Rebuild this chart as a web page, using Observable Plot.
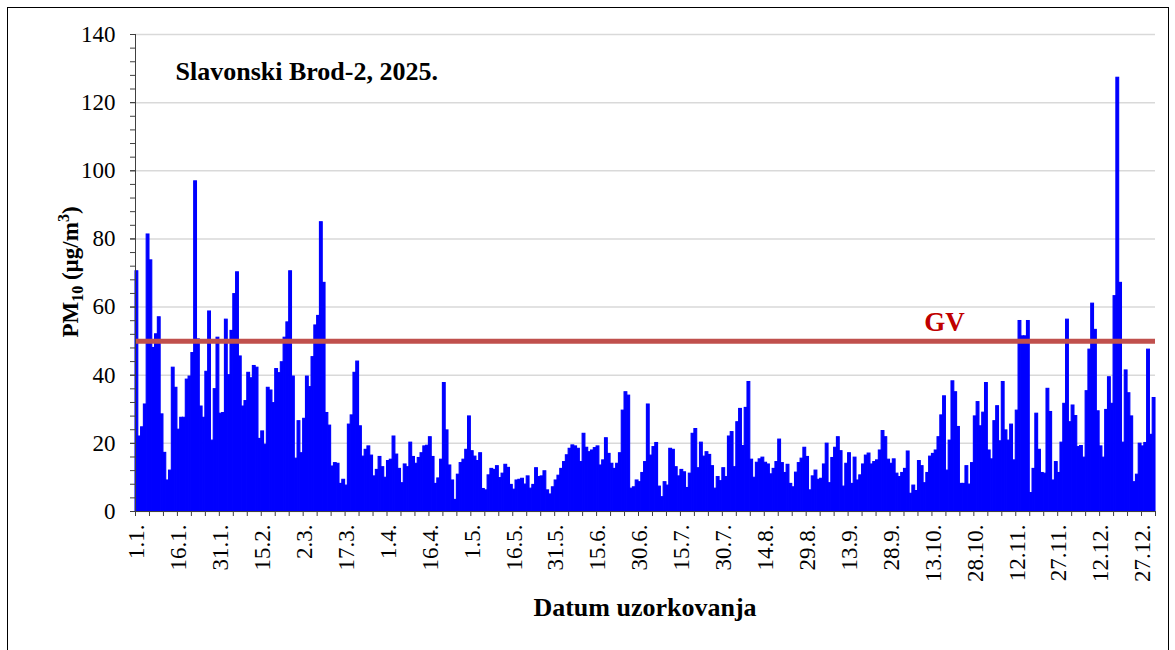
<!DOCTYPE html>
<html>
<head>
<meta charset="utf-8">
<script src="https://cdn.jsdelivr.net/npm/d3@7"></script>
<script src="https://cdn.jsdelivr.net/npm/@observablehq/plot@0.6"></script>
<style>
  body { margin: 0; background: #fff; }
  #frame { position: absolute; left: 7px; top: 7px; width: 1162px; height: 670px; border: 1px solid #000; box-sizing: border-box; }
  #chart { position: absolute; left: 0; top: 0; }
</style>
</head>
<body>
<div id="frame"></div>
<div id="chart"></div>
<script>
// Daily PM10 values (µg/m3), Slavonski Brod-2, 2025
const jan = [70.5,22,24.7,31.4,81.3,73.7,48,52,57,28.5,17.2,9.1,12,42.2,36.3,24,27.5,27.5,38.7,39.6,46.5,96.9,50.5,30.8,27.5,41,58.7,20.8,35.9,51,28.7];
const feb = [28.9,56.3,40,53,63.8,70.2,45.5,30.8,32.4,40.7,39.1,42.7,42.2,21.3,23.5,19.6,36.3,35.5,31.8,41.8,40.6,43.8,51,55.5,70.5,39.6,15.5,26.5];
const mar = [17.1,27.2,39.6,36.5,45.3,54.6,57.4,84.9,67.1,28.9,25.2,13.2,14.2,14,8.1,9.3,7.6,25.5,28.2,40.7,44,25,16.1,18.1,19.1,16.4,10.3,12.2,16,13,9.9];
const apr = [14.8,15.2,22,16.7,12.5,8.3,13.8,13,20.2,16,14,15.7,17.1,19.1,19.3,21.8,16,8.1,9.7,15.2,37.7,23.8,13.5,9.1,3.4,10.8,14.2,15.2,18.1,27.9];
const may = [17.7,16.1,14.8,17.1,6.6,6.2,10.6,12.5,12.2,13.3,9.8,11.1,13.7,12.8,7.8,6.4,9.1,9.3,9.6,7.9,10.3,6.7,7.8,12.7,10.1,10.3,11.8,6.2,5,7.1,9.1];
const jun = [10.5,12.5,14.5,16.5,18.4,19.4,19.1,18.4,14.5,22.8,18.7,17.4,17.9,18.6,19.1,13.5,15,21.5,16.9,14,12.5,14,17.1,29.6,35,34,6.7,7.1,9.1,8.6];
const jul = [11.3,14.5,31.4,16.4,18.9,20.1,7.3,4.2,8.6,7.6,18.4,18.1,13,10.3,12.2,11.5,6.9,11.1,22.8,24.2,12.7,20.2,16.1,17.4,16.6,13.3,6.7,10.1,8.9,12.7,10.1];
const aug = [22,23.3,13,26.2,30.1,19.2,30.4,38,15.2,9.9,14.3,15.3,15.8,14.3,13.8,10.9,12.5,14.5,21.1,14.2,11.3,13.7,8.1,7.1,11.4,14.2,15.5,18.7,16,6.2,10.3];
const sep = [12,9.3,9.6,13.8,19.9,8.3,15.7,18.7,21.8,17.7,7.3,14,17.1,8.1,15.8,9.1,10.6,13.8,16.4,17,13.8,14.5,15,17.9,23.6,21.8,15.2,14,15.3,11.1];
const oct = [10.1,11.3,12.5,17.6,5.2,7.6,6,14.8,13.3,8.3,11.3,16.1,16.9,17.9,21.8,28.2,33.8,12,20.8,38.2,35,24.8,8.1,8.1,13.3,7.9,14.2,27.9,32.1,25,29];
const nov = [37.7,17.9,15.3,26.5,30.9,20.6,38,23.8,20.8,25.5,15,29.6,55.9,51.4,51.4,55.9,5.4,12.5,28.7,18.1,11.3,11.1,36,29.2,9.1,14.5,11.3,20.2,31.6,56.3];
const dec = [26.2,31.1,28,18.9,19.2,15.8,35.3,47.5,61,53.3,29.4,19.1,15.8,29.8,39.4,31.6,63.2,127.3,67.1,20.2,41.4,34.7,27.9,8.6,10.8,19.9,19.1,20.1,47.5,22.5,33.3];

const xTickLabels = ["1.1.","16.1.","31.1.","15.2.","2.3.","17.3.","1.4.","16.4.","1.5.","16.5.","31.5.","15.6.","30.6.","15.7.","30.7.","14.8.","29.8.","13.9.","28.9.","13.10.","28.10.","12.11.","27.11.","12.12.","27.12."];
const yTicks = [0,20,40,60,80,100,120,140];
const limitValue = 50;
const limitLabel = "GV";
const chartTitle = "Slavonski Brod-2, 2025.";
const xTitle = "Datum uzorkovanja";

const values = [jan,feb,mar,apr,may,jun,jul,aug,sep,oct,nov,dec].flat();
const data = values.map((v, i) => ({day: i + 1, pm10: v}));
const labelDays = xTickLabels.map((_, i) => 1 + 15 * i);
const xMinor = d3.range(0.5, values.length + 1, 5);
const yMinor = d3.range(0, 141, 4);

const serif = "'Liberation Serif','Times New Roman',Times,serif";

const plot = Plot.plot({
  width: 1175,
  height: 650,
  marginLeft: 135,
  marginRight: 20,
  marginTop: 34,
  marginBottom: 139,
  x: {type: "linear", domain: [0.5, values.length + 0.5], axis: null},
  y: {domain: [0, 140], axis: null},
  style: {fontFamily: serif, background: "transparent", color: "#000"},
  marks: [
    Plot.gridY(yTicks, {stroke: "#d9d9d9", strokeOpacity: 1, strokeWidth: 1.5}),
    Plot.rectY(data, {x1: d => d.day - 0.5, x2: d => d.day + 0.5, y: "pm10", fill: "#0000ff", stroke: "#0000ff", strokeWidth: 1.1}),
    Plot.ruleY([limitValue], {stroke: "#c0504d", strokeWidth: 5}),
    Plot.text([limitLabel], {frameAnchor: "right", y: () => limitValue, dx: -211, dy: -19, text: d => d, fill: "#c00000", fontWeight: "bold", fontSize: 27, textAnchor: "middle"}),
    Plot.text([chartTitle], {frameAnchor: "top-left", dx: 40, dy: 27, text: d => d, fill: "#000", fontWeight: "bold", fontSize: 26, textAnchor: "start"}),
    Plot.ruleX([0.5], {stroke: "#404040", strokeWidth: 1}),
    Plot.ruleY([0], {stroke: "#404040", strokeWidth: 1}),
    Plot.axisY({ticks: yMinor, tickSize: 5, tickFormat: () => "", stroke: "#404040", label: null}),
    Plot.axisY({ticks: yTicks, tickSize: 5, tickPadding: 15, fontSize: 23, stroke: "#404040", fill: "#000", label: null}),
    Plot.axisX({ticks: xMinor, tickSize: 5, tickFormat: () => "", stroke: "#404040", label: null}),
    Plot.axisX({ticks: labelDays, tickSize: 0, tickPadding: 13, tickRotate: -90, fontSize: 23, fill: "#000", label: null, tickFormat: d => xTickLabels[(d - 1) / 15]})
  ]
});

document.getElementById("chart").appendChild(plot);

const svg = d3.select(plot);
// Y axis title with subscript and superscript
const yt = svg.append("text")
  .attr("transform", "translate(78,272) rotate(-90)")
  .attr("text-anchor", "middle")
  .style("font-family", serif)
  .style("font-weight", "bold")
  .style("font-size", "23px")
  .attr("fill", "#000");
yt.append("tspan").text("PM");
yt.append("tspan").attr("dy", 5).style("font-size", "16px").text("10");
yt.append("tspan").attr("dy", -5).text(" (µg/m");
yt.append("tspan").attr("dy", -9).style("font-size", "16px").text("3");
yt.append("tspan").attr("dy", 9).text(")");

// X axis title
svg.append("text")
  .attr("x", 645)
  .attr("y", 616)
  .attr("text-anchor", "middle")
  .style("font-family", serif)
  .style("font-weight", "bold")
  .style("font-size", "26px")
  .attr("fill", "#000")
  .text(xTitle);
</script>
</body>
</html>
